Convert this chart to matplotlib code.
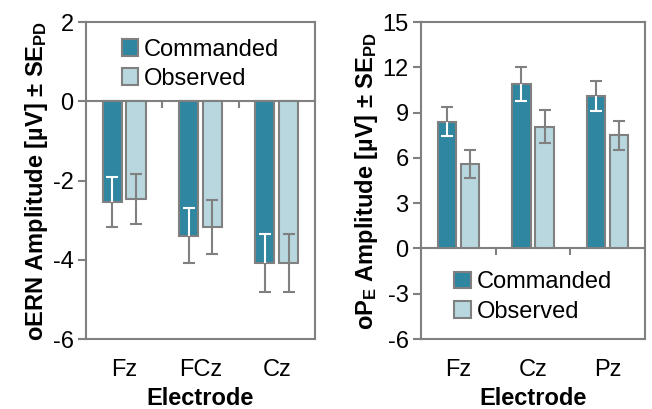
import numpy as np
import matplotlib
matplotlib.use("Agg")
import matplotlib.pyplot as plt
from matplotlib.patches import Patch

plt.rcParams['font.family'] = ['Liberation Sans', 'DejaVu Sans']
plt.rcParams['mathtext.fontset'] = 'custom'
plt.rcParams['mathtext.rm'] = 'Liberation Sans'
plt.rcParams['mathtext.bf'] = 'Liberation Sans:bold'
plt.rcParams['axes.unicode_minus'] = False

# -----------------------------
# data
# -----------------------------
ern_sites = ["Fz", "FCz", "Cz"]
ern_commanded = [-2.54, -3.39, -4.07]
ern_observed = [-2.46, -3.17, -4.07]
ern_commanded_se = [0.63, 0.69, 0.73]
ern_observed_se = [0.63, 0.69, 0.73]

pe_sites = ["Fz", "Cz", "Pz"]
pe_commanded = [8.4, 10.9, 10.1]
pe_observed = [5.6, 8.07, 7.5]
pe_commanded_se = [0.95, 1.1, 1.0]
pe_observed_se = [0.93, 1.1, 0.97]

dark = "#2E86A0"
light = "#B8D7DF"
gray = "#808080"


def panel(ax, sites, cmd, obs, cmd_se, obs_se, ylim, step, ylabel, legend_loc):
    x = np.arange(len(sites))
    cmd = np.array(cmd)
    obs = np.array(obs)
    cmd_se = np.array(cmd_se)
    obs_se = np.array(obs_se)
    w = 0.25
    off = 0.155

    ax.bar(x - off, cmd, w, color=dark, edgecolor=gray, linewidth=1.5, zorder=2)
    ax.bar(x + off, obs, w, color=light, edgecolor=gray, linewidth=1.5, zorder=2)

    ax.errorbar(x - off, cmd, yerr=cmd_se, fmt='none', ecolor=gray, elinewidth=1.5,
                capsize=4, capthick=1.5, zorder=3)
    ax.errorbar(x + off, obs, yerr=obs_se, fmt='none', ecolor=gray, elinewidth=1.5,
                capsize=4, capthick=1.5, zorder=3)
    # part of the error bar inside the dark bar is white
    inner = cmd - np.sign(cmd) * cmd_se
    ax.vlines(x - off, cmd, inner, color="white", linewidth=1.5, zorder=4)
    ax.plot(x - off, inner, ls='none', marker='_', ms=8, mew=1.5, color="white", zorder=4)

    ax.set_xlim(-0.5, len(sites) - 0.5)
    ax.set_ylim(*ylim)
    ax.set_yticks(np.arange(ylim[0], ylim[1] + 0.1, step))
    ax.set_xticks(x)
    ax.set_xticklabels(sites)
    ax.tick_params(axis='x', length=0, pad=14, labelsize=17)
    ax.tick_params(axis='y', length=6, width=1.5, color=gray, pad=3, labelsize=17)
    for s in ax.spines.values():
        s.set_color(gray)
        s.set_linewidth(1.5)

    # zero line with category separators
    sec = ax.secondary_xaxis(0, transform=ax.transData)
    sec.set_xticks(np.arange(0.5, len(sites) - 1, 1.0))
    sec.set_xticklabels([])
    sec.tick_params(length=5, width=1.5, color=gray)
    sec.spines['bottom'].set_color(gray)
    sec.spines['bottom'].set_linewidth(1.5)

    ax.set_xlabel("Electrode", fontsize=17, fontweight='bold', labelpad=5)
    ax.set_ylabel(ylabel, fontsize=17, fontweight='bold', labelpad=2)

    handles = [Patch(facecolor=dark, edgecolor=gray, linewidth=1.5, label="Commanded"),
               Patch(facecolor=light, edgecolor=gray, linewidth=1.5, label="Observed")]
    ax.legend(handles=handles, loc=legend_loc, frameon=False, fontsize=17,
              handlelength=0.7, handleheight=0.7, handletextpad=0.25,
              labelspacing=0.3, borderaxespad=0.3)


fig = plt.figure(figsize=(6.52, 4.09), dpi=100)
ax1 = fig.add_axes([0.132, 0.171, 0.351, 0.775])
ax2 = fig.add_axes([0.646, 0.171, 0.343, 0.775])

panel(ax1, ern_sites, ern_commanded, ern_observed, ern_commanded_se, ern_observed_se,
      (-6, 2), 2, r"oERN Amplitude [µV] ± $\mathbf{SE_{PD}}$", "upper center")
panel(ax2, pe_sites, pe_commanded, pe_observed, pe_commanded_se, pe_observed_se,
      (-6, 15), 3, r"$\mathbf{oP_E}$ Amplitude [µV] ± $\mathbf{SE_{PD}}$", "lower center")

fig.savefig("out.png", dpi=100)
